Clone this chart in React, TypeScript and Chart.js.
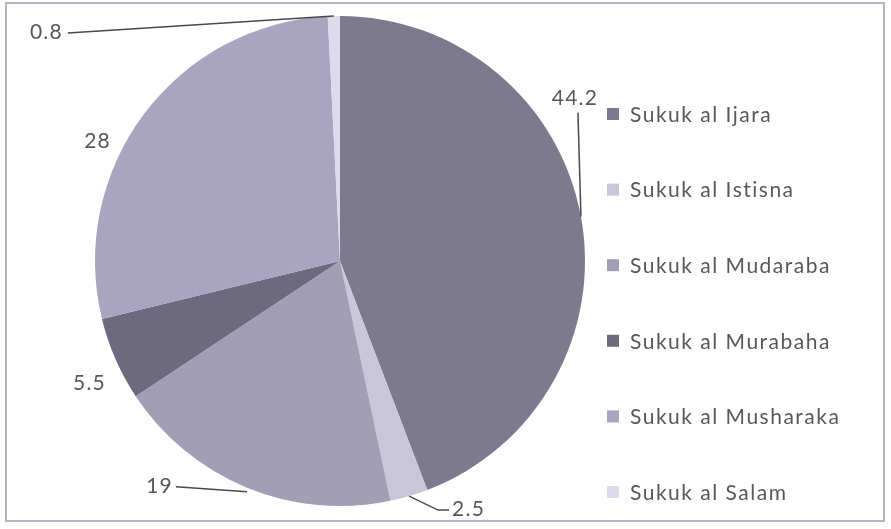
import React, { useEffect, useRef } from "react";
import { Chart, registerables } from "chart.js";

Chart.register(...registerables);

const categories = [
  "Sukuk al Ijara",
  "Sukuk al Istisna",
  "Sukuk al Mudaraba",
  "Sukuk al Murabaha",
  "Sukuk al Musharaka",
  "Sukuk al Salam",
];
const values = [44.2, 2.5, 19, 5.5, 28, 0.8];
const valueLabels = ["44.2", "2.5", "19", "5.5", "28", "0.8"];
const colors = ["#7d7a8f", "#c9c6da", "#a29eb6", "#6d697e", "#a9a5c0", "#dcdaec"];

// label layout relative to each slice's outer mid point (style only)
type LabelStyle = { dx: number; dy: number; align: CanvasTextAlign; line: number[][] | null };
const labelLayout: LabelStyle[] = [
  { dx: -6, dy: -118, align: "center", line: [[-3, -104], [0, 0]] },
  { dx: 43, dy: 13, align: "left", line: [[0, 0], [29, 14], [40, 14]] },
  { dx: -74, dy: -1, align: "right", line: [[-71, -1], [0, 4]] },
  { dx: -26, dy: 24, align: "center", line: null },
  { dx: -46, dy: 27, align: "center", line: null },
  { dx: -271, dy: 16, align: "right", line: [[-266, 17], [0, 0]] },
];

const FONT = "Lato, 'Open Sans', sans-serif";

const labelPlugin = {
  id: "pieLabels",
  afterDraw(chart: any) {
    const ctx = chart.ctx as CanvasRenderingContext2D;
    const meta = chart.getDatasetMeta(0);
    ctx.save();
    ctx.font = `21px ${FONT}`;
    (ctx as any).letterSpacing = "1.2px";
    ctx.textBaseline = "middle";
    meta.data.forEach((arc: any, i: number) => {
      const mid = (arc.startAngle + arc.endAngle) / 2;
      const ax = arc.x + Math.cos(mid) * arc.outerRadius;
      const ay = arc.y + Math.sin(mid) * arc.outerRadius;
      const st = labelLayout[i];
      if (st.line) {
        ctx.strokeStyle = "#4a4a4a";
        ctx.lineWidth = 1.5;
        ctx.beginPath();
        st.line.forEach((p, k) => {
          if (k === 0) ctx.moveTo(ax + p[0], ay + p[1]);
          else ctx.lineTo(ax + p[0], ay + p[1]);
        });
        ctx.stroke();
      }
      ctx.fillStyle = "#585858";
      ctx.textAlign = st.align;
      ctx.fillText(valueLabels[i], ax + st.dx, ay + st.dy);
    });

    // legend
    const lx = 607;
    const ly0 = 114;
    const step = 75.6;
    ctx.textAlign = "left";
    ctx.font = `21px ${FONT}`;
    (ctx as any).letterSpacing = "1.5px";
    chart.data.labels.forEach((lab: string, i: number) => {
      const y = ly0 + i * step;
      ctx.fillStyle = chart.data.datasets[0].backgroundColor[i];
      ctx.fillRect(lx, y - 6, 12, 12);
      ctx.fillStyle = "#585858";
      ctx.fillText(lab, lx + 23, y + 1);
    });
    ctx.restore();
  },
};

export default function App() {
  const ref = useRef<HTMLCanvasElement | null>(null);
  useEffect(() => {
    if (!ref.current) return;
    const chart = new Chart(ref.current, {
      type: "pie",
      data: {
        labels: categories,
        datasets: [
          {
            data: values,
            backgroundColor: colors,
            borderWidth: 0,
          },
        ],
      },
      options: {
        animation: false,
        responsive: false,
        maintainAspectRatio: false,
        layout: { padding: { left: 95, right: 306, top: 16, bottom: 23 } },
        plugins: {
          legend: { display: false },
          tooltip: { enabled: false },
        },
      },
      plugins: [labelPlugin],
    });
    return () => chart.destroy();
  }, []);
  return (
    <div style={{ position: "absolute", left: 0, top: 0, width: 891, height: 529, background: "#ffffff" }}>
      <canvas ref={ref} width={891} height={529} style={{ position: "absolute", left: 0, top: 0 }} />
      <div
        style={{
          position: "absolute",
          left: 5,
          top: 2,
          width: 880,
          height: 520,
          border: "2px solid #b5b3ca",
          boxSizing: "border-box",
          pointerEvents: "none",
        }}
      />
    </div>
  );
}
